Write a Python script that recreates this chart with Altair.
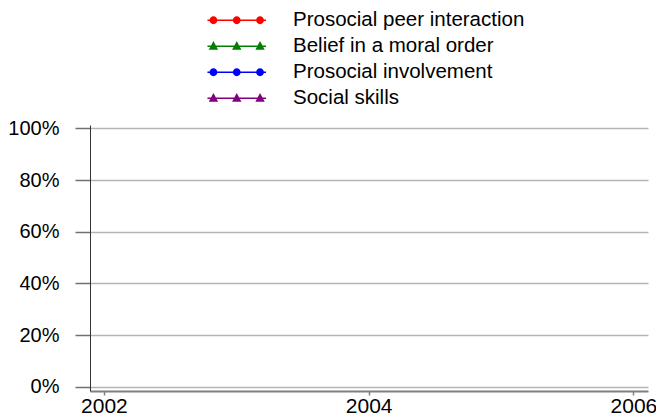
import altair as alt
import pandas as pd

# ---- data (the reference chart shows no plotted values) ----
years = [2002, 2003, 2004, 2005, 2006]
series = ["Prosocial peer interaction", "Belief in a moral order",
          "Prosocial involvement", "Social skills"]
prosocial_peer = [None, None, None, None, None]
belief_moral = [None, None, None, None, None]
prosocial_involvement = [None, None, None, None, None]
social_skills = [None, None, None, None, None]
colors = ["#ff0000", "#008000", "#0000ff", "#800080"]
y_ticks = [0, 0.2, 0.4, 0.6, 0.8, 1.0]
x_ticks = [2002, 2004, 2006]

rows = []
for name, vals in zip(series, [prosocial_peer, belief_moral,
                               prosocial_involvement, social_skills]):
    for yr, v in zip(years, vals):
        rows.append({"year": yr, "series": name, "value": v})
df = pd.DataFrame(rows)

# ---- legend symbols: line with three markers (custom SVG paths, px units) ----
def rect(x0, x1, h=0.7):
    return f"M{x0},{-h}L{x1},{-h}L{x1},{h}L{x0},{h}Z"

def circ(cx, r=3.9):
    return f"M{cx - r},0A{r},{r} 0 1,1 {cx + r},0A{r},{r} 0 1,1 {cx - r},0Z"

def tri(cx, w=4.7):
    return f"M{cx},-5.2L{cx + w},3.6L{cx - w},3.6Z"

circle_path = (rect(-29.3, -26.9) + circ(-23.3) + rect(-19.7, -3.6) + circ(0)
               + rect(3.6, 19.7) + circ(23.3) + rect(26.9, 29.3))
tri_path = (rect(-29.3, -25.8) + tri(-23.3) + rect(-20.8, -2.5) + tri(0)
            + rect(2.5, 20.8) + tri(23.3) + rect(25.8, 29.3))
shapes = [circle_path, tri_path, circle_path, tri_path]

FONT = "Liberation Sans"

x_enc = alt.X("year:Q",
              scale=alt.Scale(domain=[2001.895, 2006.11], nice=False, zero=False),
              axis=alt.Axis(values=x_ticks, format="d", title=None, grid=False,
                            tickSize=4, tickColor="#808080", tickWidth=1.5,
                            domainColor="#808080", domainWidth=2,
                            labelFont=FONT, labelFontSize=21, labelColor="#000",
                            labelPadding=0, labelFlush=False, labelOverlap=False))
y_enc = alt.Y("value:Q",
              scale=alt.Scale(domain=[-0.016, 1.013], nice=False, zero=False),
              axis=alt.Axis(values=y_ticks, format=".0%", title=None, grid=True,
                            gridColor="#b4b4b4", gridWidth=1.5,
                            tickSize=15, tickColor="#707070", tickWidth=1.5,
                            domainColor="#333333", domainWidth=1,
                            labelFont=FONT, labelFontSize=20, labelColor="#000",
                            labelPadding=16, labelFlush=False, labelOverlap=False))

color_scale = alt.Scale(domain=series, range=colors)
shape_scale = alt.Scale(domain=series, range=shapes)

legend = alt.Legend(title=None, orient="none", legendX=136.5, legendY=-115,
                    symbolSize=4, symbolStrokeWidth=0, symbolOpacity=1,
                    labelOffset=46, labelFont=FONT, labelFontSize=20.5,
                    labelColor="#000", labelLimit=400, rowPadding=5,
                    direction="vertical")

lines = alt.Chart(df).mark_line(strokeWidth=1.5).encode(
    x=x_enc, y=y_enc,
    color=alt.Color("series:N", scale=color_scale, legend=None),
)
points = alt.Chart(df).mark_point(filled=True, size=4, opacity=1).encode(
    x=x_enc, y=y_enc,
    color=alt.Color("series:N", scale=color_scale, legend=legend),
    shape=alt.Shape("series:N", scale=shape_scale, legend=legend),
)

chart = alt.layer(lines, points).resolve_legend(
    color="independent", shape="independent"
).properties(
    width=558, height=266,
    autosize=alt.AutoSizeParams(type="none"),
    padding={"left": 82, "top": 117, "right": 8, "bottom": 26},
).configure_view(strokeWidth=0)

chart.save("out.html", embed_options={"renderer": "svg", "actions": False})
